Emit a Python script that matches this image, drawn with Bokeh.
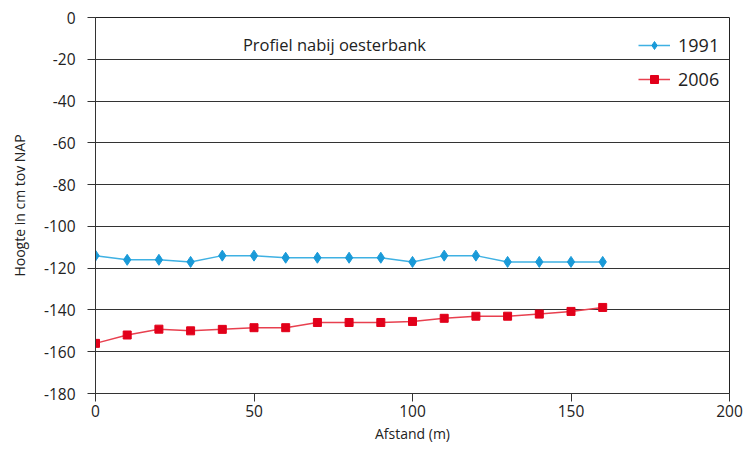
from bokeh.plotting import figure
from bokeh.models import Legend, LegendItem, Label, FixedTicker, Range1d
from bokeh.embed import file_html
from bokeh.resources import INLINE

afstand = [0, 10, 20, 30, 40, 50, 60, 70, 80, 90, 100, 110, 120, 130, 140, 150, 160]
hoogte_1991 = [-114, -116, -116, -117, -114, -114, -115, -115, -115, -115, -117, -114, -114, -117, -117, -117, -117]
hoogte_2006 = [-156, -152, -149.2, -150, -149.3, -148.5, -148.5, -146, -146, -146, -145.5, -144, -143, -143, -142, -140.7, -138.8]
y_ticks = [0, -20, -40, -60, -80, -100, -120, -140, -160, -180]
x_ticks = [0, 50, 100, 150, 200]

FONT = "Open Sans"
BLUE_LINE = "#3fb1e3"
BLUE_MARK = "#1a9ad8"
RED_LINE = "#e8404f"
RED_MARK = "#e2001a"

p = figure(width=746, height=451, output_backend="svg", toolbar_location=None,
           x_range=Range1d(0, 200), y_range=Range1d(-180, 0),
           min_border_left=95, min_border_right=17, min_border_top=17, min_border_bottom=58)

p.outline_line_color = "#222222"
p.outline_line_width = 1
p.xgrid.grid_line_color = None
p.ygrid.grid_line_color = "#333333"
p.ygrid.grid_line_width = 1
p.ygrid.ticker = FixedTicker(ticks=y_ticks)

p.yaxis.ticker = FixedTicker(ticks=y_ticks)
p.xaxis.ticker = FixedTicker(ticks=x_ticks)
p.yaxis.major_label_overrides = {t: str(t) for t in y_ticks}
p.xaxis.major_label_overrides = {t: str(t) for t in x_ticks}
for ax in (p.xaxis[0], p.yaxis[0]):
    ax.axis_line_color = "#333333"
    ax.major_tick_line_color = "#333333"
    ax.major_tick_out = 8
    ax.major_tick_in = 0
    ax.minor_tick_line_color = None
    ax.major_label_text_font = FONT
    ax.major_label_text_font_size = "15.5px"
    ax.major_label_text_color = "#222222"
    ax.axis_label_text_font = FONT
    ax.axis_label_text_font_size = "14px"
    ax.axis_label_text_font_style = "normal"
    ax.axis_label_text_color = "#222222"
p.xaxis.axis_label = "Afstand (m)"
p.yaxis.axis_label = "Hoogte in cm tov NAP"
p.xaxis.axis_label_standoff = 4
p.yaxis.axis_label_standoff = 12
p.xaxis.major_label_standoff = 3
p.yaxis.major_label_standoff = 12

l1 = p.line(afstand, hoogte_1991, line_color=BLUE_LINE, line_width=1.5)
m1 = p.scatter(afstand, hoogte_1991, marker="diamond", size=11, fill_color=BLUE_MARK, line_color=BLUE_MARK)
l2 = p.line(afstand, hoogte_2006, line_color=RED_LINE, line_width=1.5)
m2 = p.scatter(afstand, hoogte_2006, marker="square", size=8, fill_color=RED_MARK, line_color=RED_MARK)

legend = Legend(items=[LegendItem(label="1991", renderers=[l1, m1]),
                       LegendItem(label="2006", renderers=[l2, m2])],
                location=(543, 302))
legend.background_fill_alpha = 0
legend.border_line_color = None
legend.label_text_font = FONT
legend.label_text_font_size = "18px"
legend.label_text_color = "#222222"
legend.glyph_width = 32
legend.glyph_height = 20
legend.label_height = 20
legend.spacing = 10
legend.margin = 0
legend.padding = 0
legend.label_standoff = 8
p.add_layout(legend)

title = Label(x=46.5, y=-13, text="Profiel nabij oesterbank", text_font=FONT,
              text_font_size="16.5px", text_color="#222222", text_baseline="middle")
p.add_layout(title)

open("out.html", "w").write(file_html(p, INLINE))
